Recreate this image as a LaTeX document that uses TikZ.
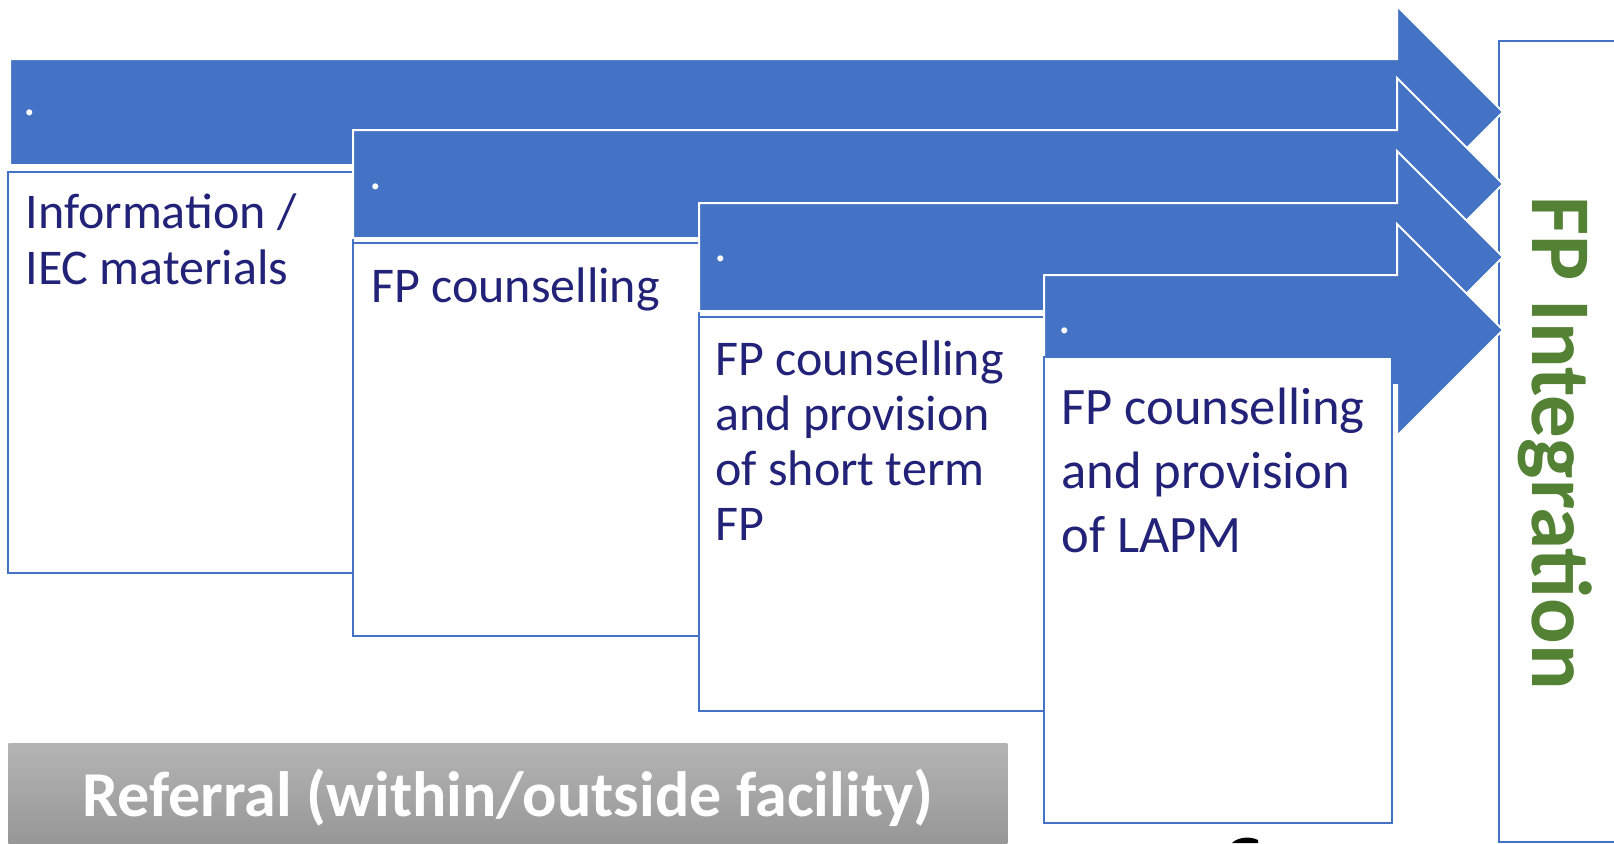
\documentclass[tikz,border=0pt]{standalone}
\usepackage{fontspec}
\setmainfont{Carlito}
\definecolor{fpblue}{RGB}{68,114,196}
\definecolor{fpnavy}{RGB}{34,34,120}
\definecolor{fpgreen}{RGB}{84,130,53}
\definecolor{greytop}{RGB}{180,180,180}
\definecolor{greybot}{RGB}{148,148,148}
\tikzset{
  stagearrow/.style={fill=fpblue, draw=white, line width=1pt, line join=miter},
  stagebox/.style={fill=white, draw=fpblue, line width=1pt},
  % anchored at the baseline of the last line
  stagetext/.style={anchor=base west, align=left, inner sep=0pt, text=fpnavy,
    font=\fontsize{25}{27.5}\selectfont},
  dotmark/.style={inner sep=0pt, text=white, font=\fontsize{25}{27.5}\selectfont},
}
\begin{document}
\begin{tikzpicture}[x=0.5pt,y=-0.5pt]
\useasboundingbox (0,0) rectangle (1614,843);
\clip (0,0) rectangle (1614,843);

% integration frame on the right
\path[stagebox] (1499,41) rectangle (1640,842);
\node[anchor=base, rotate=-90, inner sep=0pt, text=fpgreen,
      font=\fontsize{42.5}{46}\selectfont\bfseries] (integ) at (1532,443) {FP Integration};

% stage 1
\path[stagearrow] (10,59) -- (1397,59) -- (1397,6) -- (1503,112) -- (1397,218)
   -- (1397,165) -- (10,165) -- cycle;
\node[dotmark] (d1) at (30,113) {.};
\path[stagebox] (8,172) rectangle (353,573);
\node[stagetext, font=\fontsize{25}{28}\selectfont] (t1) at (25,284) {Information /\\IEC materials};

% stage 2
\path[stagearrow] (353,130) -- (1397,130) -- (1397,78) -- (1503,184) -- (1397,290)
   -- (1397,238) -- (353,238) -- cycle;
\node[dotmark] (d2) at (376,187) {.};
\path[stagebox] (353,243) rectangle (699,636);
\node[stagetext] (t2) at (371,302) {FP counselling};

% stage 3
\path[stagearrow] (699,203) -- (1397,203) -- (1397,151) -- (1503,257) -- (1397,363)
   -- (1397,311) -- (699,311) -- cycle;
\node[dotmark] (d3) at (721,259) {.};
\path[stagebox] (699,317) rectangle (1044,711);
\node[stagetext] (t3) at (715,540) {FP counselling\\and provision\\of short term\\FP};

% stage 4
\path[stagearrow] (1044,275) -- (1397,275) -- (1397,224) -- (1503,330) -- (1397,436)
   -- (1397,385) -- (1044,385) -- cycle;
\node[dotmark] (d4) at (1065,331) {.};
\path[stagebox] (1044,357) rectangle (1392,823);
\node[stagetext, font=\fontsize{26.3}{32}\selectfont] (t4) at (1061,552)
   {FP counselling\\and provision\\of LAPM};

% referral bar
\node[anchor=north west, inner sep=0pt, minimum width=999*0.5pt, minimum height=110*0.5pt,
      top color=greytop, bottom color=greybot] (ref) at (8,743) {};
\node[anchor=base, inner sep=0pt, text=white,
      font=\fontsize{32}{36}\selectfont\bfseries] (reftext) at (508,816)
   {Referral (within/outside facility)};

% small dark stroke at the lower edge
\fill[black] (1232,843) .. controls (1238,837) and (1250,836) .. (1258,840)
   -- (1258,843) -- cycle;
\end{tikzpicture}
\end{document}
